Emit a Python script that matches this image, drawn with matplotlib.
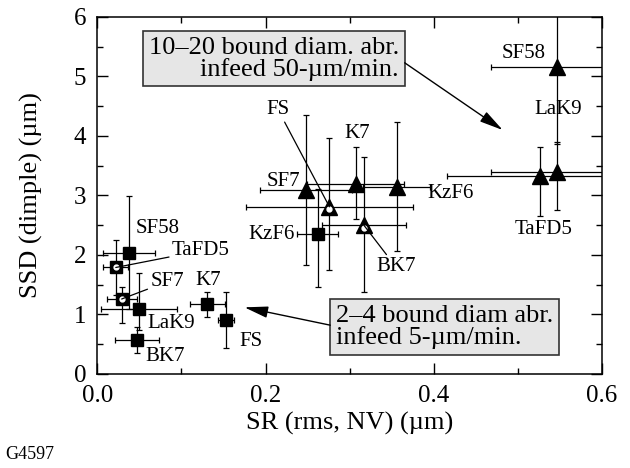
import numpy as np
import matplotlib
matplotlib.use('Agg')
import matplotlib.pyplot as plt

plt.rcParams['font.family'] = ['Liberation Serif', 'DejaVu Serif']

# 2-4 bound diamond abrasive (squares)
sq_names = ['SF58', 'TaFD5', 'SF7', 'LaK9', 'BK7', 'K7', 'FS', 'KzF6']
sq_sr = [0.038, 0.022, 0.029, 0.050, 0.047, 0.131, 0.153, 0.262]
sq_sr_err = [0.031, 0.015, 0.018, 0.045, 0.026, 0.021, 0.010, 0.024]
sq_ssd = [2.04, 1.79, 1.26, 1.10, 0.57, 1.17, 0.91, 2.35]
sq_ssd_lo = [0.95, 0.46, 0.41, 0.36, 0.21, 0.21, 0.48, 0.88]
sq_ssd_hi = [0.95, 0.47, 0.21, 0.59, 0.22, 0.21, 0.47, 0.76]
sq_open = [False, True, True, False, False, False, False, False]

# 10-20 bound diamond abrasive (triangles)
tri_names = ['SF7', 'FS', 'K7', 'KzF6', 'BK7', 'SF58', 'LaK9', 'TaFD5']
tri_sr = [0.248, 0.276, 0.307, 0.356, 0.317, 0.546, 0.546, 0.526]
tri_sr_err = [0.055, 0.099, 0.058, 0.040, 0.050, 0.078, 0.078, 0.110]
tri_ssd = [3.09, 2.81, 3.20, 3.15, 2.50, 5.16, 3.40, 3.32]
tri_ssd_lo = [1.26, 1.06, 0.60, 1.09, 1.12, 1.30, 0.64, 0.66]
tri_ssd_hi = [1.26, 1.15, 0.62, 1.09, 1.15, 1.30, 0.50, 0.49]
tri_open = [False, True, False, False, True, False, False, False]

# label placement (data coords)
sq_label_pos = {'SF58': (0.072, 2.45), 'TaFD5': (0.123, 2.07), 'SF7': (0.083, 1.55),
                'LaK9': (0.088, 0.85), 'BK7': (0.081, 0.29), 'K7': (0.132, 1.57),
                'FS': (0.183, 0.54), 'KzF6': (0.207, 2.35)}
tri_label_pos = {'SF7': (0.221, 3.23), 'FS': (0.215, 4.44), 'K7': (0.309, 4.05),
                 'KzF6': (0.420, 3.04), 'BK7': (0.355, 1.80), 'SF58': (0.507, 5.38),
                 'LaK9': (0.548, 4.44), 'TaFD5': (0.530, 2.42)}
sq_leaders = ['TaFD5', 'SF7']
tri_leaders = ['FS', 'BK7']

fig = plt.figure(figsize=(6.3, 4.68), dpi=100)
ax = fig.add_axes([0.1544, 0.2009, 0.8011, 0.7628])

eb_kw = dict(fmt='none', ecolor='black', elinewidth=0.9, capsize=2.5, capthick=0.9, zorder=2)
ax.errorbar(sq_sr, sq_ssd, xerr=sq_sr_err, yerr=[sq_ssd_lo, sq_ssd_hi], **eb_kw)
ax.errorbar(tri_sr, tri_ssd, xerr=tri_sr_err, yerr=[tri_ssd_lo, tri_ssd_hi], **eb_kw)

ax.plot(sq_sr, sq_ssd, 's', color='black', ms=9, zorder=3)
ax.plot(tri_sr, tri_ssd, '^', color='black', ms=11, zorder=3)
# open markers: white hole in the middle
ax.plot(np.array(sq_sr)[sq_open], np.array(sq_ssd)[sq_open], 'o', color='white', ms=3.5, zorder=4)
ax.plot(np.array(tri_sr)[tri_open], np.array(tri_ssd)[tri_open] - 0.04, 'o', color='white', ms=3.5, zorder=4)

lab_kw = dict(fontsize=15, ha='center', va='center', zorder=5)
line_kw = dict(arrowstyle='-', color='black', lw=0.9, shrinkA=0, shrinkB=0)
for names, xs, ys, pos, leaders in [(sq_names, sq_sr, sq_ssd, sq_label_pos, sq_leaders),
                                    (tri_names, tri_sr, tri_ssd, tri_label_pos, tri_leaders)]:
    for n, x, y in zip(names, xs, ys):
        if n in leaders:
            ax.annotate(n, xy=(x, y), xytext=pos[n], arrowprops=line_kw, **lab_kw)
        else:
            ax.text(pos[n][0], pos[n][1], n, **lab_kw)

box_kw = dict(boxstyle='square,pad=0.22', fc='#e6e6e6', ec='#333333', lw=1.2)
ax.text(0.3588, 5.30, '10–20 bound diam. abr.\ninfeed 50-µm/min.', fontsize=19,
        ha='right', va='center', multialignment='right', linespacing=0.95, bbox=box_kw, zorder=6)
ax.text(0.2833, 0.795, '2–4 bound diam abr.\ninfeed 5-µm/min.', fontsize=19,
        ha='left', va='center', multialignment='left', linespacing=0.95, bbox=box_kw, zorder=6)

arrow_kw = dict(arrowstyle='-|>,head_length=0.9,head_width=0.22', color='black', lw=1.0,
                mutation_scale=16, shrinkA=0, shrinkB=0)
ax.annotate('', xy=(0.482, 4.10), xytext=(0.3655, 5.23), arrowprops=arrow_kw, zorder=6)
ax.annotate('', xy=(0.175, 1.12), xytext=(0.277, 0.82), arrowprops=arrow_kw, zorder=6)

ax.set_xlim(0, 0.6)
ax.set_ylim(0, 6)
ax.set_xticks([0.0, 0.2, 0.4, 0.6])
ax.set_xticklabels(['0.0', '0.2', '0.4', '0.6'])
ax.set_xticks([0.1, 0.3, 0.5], minor=True)
ax.set_yticks(range(7))
ax.set_yticks(np.arange(0.5, 6, 1), minor=True)
ax.tick_params(which='both', direction='in', top=True, right=True, width=1.0)
ax.tick_params(which='major', length=8, labelsize=18, pad=8)
ax.tick_params(which='minor', length=4.5)
for s in ax.spines.values():
    s.set_linewidth(1.1)

ax.set_xlabel('SR (rms, NV) (µm)', fontsize=19)
ax.set_ylabel('SSD (dimple) (µm)', fontsize=19)
ax.xaxis.set_label_coords(0.5, -0.105)
ax.yaxis.set_label_coords(-0.108, 0.5)

fig.text(0.008, 0.028, 'G4597', fontsize=13, ha='left', va='center')

fig.savefig('out.png', dpi=100)
